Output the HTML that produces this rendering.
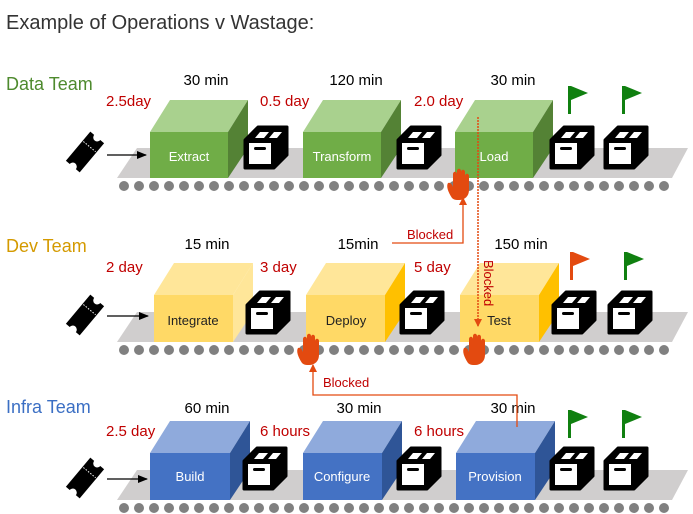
<!DOCTYPE html>
<html><head><meta charset="utf-8"><style>
body{margin:0;background:#fff;width:693px;height:514px;overflow:hidden}
svg{display:block;font-family:"Liberation Sans",sans-serif}
</style></head><body>
<svg width="693" height="514" viewBox="0 0 693 514">
<defs>
<g id="crate">
<polygon points="0,13 13,0 42,0 42,28 29,41 0,41" fill="#000" stroke="#000" stroke-width="3" stroke-linejoin="round"/>
<rect x="4" y="16" width="22" height="21" fill="#fff"/>
<rect x="9" y="20" width="12" height="3" rx="1.5" fill="#000"/>
<polygon points="10,11 15,5 24,5 19,11" fill="#fff"/>
<polygon points="24,11 29,5 37,5 32,11" fill="#fff"/>
</g>
<g id="ticket">
<g transform="rotate(-50 0 0)">
<path d="M-19,-9 h38 v5 a3.5,3.5 0 0 0 0,8 v5 h-38 v-5 a3.5,3.5 0 0 0 0,-8 z" fill="#000"/>
<line x1="7" y1="-8" x2="7" y2="8" stroke="#fff" stroke-width="1" stroke-dasharray="1.5 1.5"/>
</g>
</g>
<g id="flag"><rect x="0" y="0" width="3" height="28" fill="currentColor"/><polygon points="3,0 20,7 3,14" fill="currentColor"/></g>
<g id="hand">
<path d="M-9,14 C-13,8 -15,2 -13,-1 C-11,-2 -9,0 -8,3 L-8,-10 C-8,-13 -4,-13 -4,-10 L-4,-13 C-4,-16 0,-16 0,-13 L0,-12 C0,-15 4,-15 4,-12 L4,-8 C4,-11 8,-11 8,-8 L8,6 C8,12 4,16 -2,16 C-5,16 -7,16 -9,14 Z" fill="#e34a10"/>
</g>
<g id="dots">
<g fill="#808080">
<circle cx="124" cy="0" r="5"/><circle cx="139" cy="0" r="5"/><circle cx="154" cy="0" r="5"/><circle cx="169" cy="0" r="5"/><circle cx="184" cy="0" r="5"/><circle cx="199" cy="0" r="5"/><circle cx="214" cy="0" r="5"/><circle cx="229" cy="0" r="5"/><circle cx="244" cy="0" r="5"/><circle cx="259" cy="0" r="5"/><circle cx="274" cy="0" r="5"/><circle cx="289" cy="0" r="5"/><circle cx="304" cy="0" r="5"/><circle cx="319" cy="0" r="5"/><circle cx="334" cy="0" r="5"/><circle cx="349" cy="0" r="5"/><circle cx="364" cy="0" r="5"/><circle cx="379" cy="0" r="5"/><circle cx="394" cy="0" r="5"/><circle cx="409" cy="0" r="5"/><circle cx="424" cy="0" r="5"/><circle cx="439" cy="0" r="5"/><circle cx="454" cy="0" r="5"/><circle cx="469" cy="0" r="5"/><circle cx="484" cy="0" r="5"/><circle cx="499" cy="0" r="5"/><circle cx="514" cy="0" r="5"/><circle cx="529" cy="0" r="5"/><circle cx="544" cy="0" r="5"/><circle cx="559" cy="0" r="5"/><circle cx="574" cy="0" r="5"/><circle cx="589" cy="0" r="5"/><circle cx="604" cy="0" r="5"/><circle cx="619" cy="0" r="5"/><circle cx="634" cy="0" r="5"/><circle cx="649" cy="0" r="5"/><circle cx="664" cy="0" r="5"/>
</g>
</g>
<marker id="ar" markerWidth="8" markerHeight="8" refX="7" refY="4" orient="auto" markerUnits="userSpaceOnUse"><path d="M0,0 L8,4 L0,8 z" fill="#e34a10"/></marker>
<marker id="ab" markerWidth="10" markerHeight="8" refX="9" refY="4" orient="auto" markerUnits="userSpaceOnUse"><path d="M0,0 L10,4 L0,8 z" fill="#000"/></marker>
</defs>

<text x="6" y="29" font-size="20" fill="#333">Example of Operations v Wastage:</text>

<!-- ROW 1 -->
<g>
<text x="6" y="90" font-size="18" fill="#4e8a2e">Data Team</text>
<polygon points="137,148 688,148 672,178 117,178" fill="#d0cece"/>
<use href="#dots" y="186"/>
<use href="#ticket" x="85" y="152"/>
<line x1="107" y1="155" x2="146" y2="155" stroke="#000" stroke-width="1.3" marker-end="url(#ab)"/>
<polygon points="150,132 170,100 248,100 228,132" fill="#a9d18e"/><polygon points="228,132 248,100 248,148 228,178" fill="#548235"/><rect x="150" y="132" width="78" height="46" fill="#70ad47"/>
<polygon points="303,132 323,100 401,100 381,132" fill="#a9d18e"/><polygon points="381,132 401,100 401,148 381,178" fill="#548235"/><rect x="303" y="132" width="78" height="46" fill="#70ad47"/>
<polygon points="455,132 475,100 553,100 533,132" fill="#a9d18e"/><polygon points="533,132 553,100 553,148 533,178" fill="#548235"/><rect x="455" y="132" width="78" height="46" fill="#70ad47"/>
<g font-size="13" fill="#fff" text-anchor="middle"><text x="189" y="161">Extract</text><text x="342" y="161">Transform</text><text x="494" y="161">Load</text></g>
<use href="#crate" x="245" y="127"/><use href="#crate" x="398" y="127"/><use href="#crate" x="551" y="127"/><use href="#crate" x="605" y="127"/>
<use href="#flag" x="568" y="86" style="color:#108010"/><use href="#flag" x="622" y="86" style="color:#108010"/>
<g font-size="15" fill="#000" text-anchor="middle"><text x="206" y="85">30 min</text><text x="356" y="85">120 min</text><text x="513" y="85">30 min</text></g>
<g font-size="15" fill="#c00000"><text x="106" y="106">2.5day</text><text x="260" y="106">0.5 day</text><text x="414" y="106">2.0 day</text></g>
</g>

<!-- ROW 2 -->
<g>
<text x="6" y="252" font-size="18" fill="#d49a00">Dev Team</text>
<polygon points="137,312 688,312 672,342 117,342" fill="#d0cece"/>
<use href="#dots" y="350"/>
<use href="#ticket" x="85" y="315"/>
<line x1="107" y1="316" x2="148" y2="316" stroke="#000" stroke-width="1.3" marker-end="url(#ab)"/>
<polygon points="154,295 174,263 253,263 233,295" fill="#ffe699"/><polygon points="233,295 253,263 253,312 233,342" fill="#ffe699"/><rect x="154" y="295" width="79" height="47" fill="#ffd966"/>
<polygon points="306,295 326,263 405,263 385,295" fill="#ffe699"/><polygon points="385,295 405,263 405,312 385,342" fill="#ffc000"/><rect x="306" y="295" width="79" height="47" fill="#ffd966"/>
<polygon points="460,295 480,263 559,263 539,295" fill="#ffe699"/><polygon points="539,295 559,263 559,312 539,342" fill="#ffc000"/><rect x="460" y="295" width="79" height="47" fill="#ffd966"/>
<g font-size="13" fill="#222" text-anchor="middle"><text x="193" y="325">Integrate</text><text x="346" y="325">Deploy</text><text x="499" y="325">Test</text></g>
<use href="#crate" x="247" y="292"/><use href="#crate" x="401" y="292"/><use href="#crate" x="553" y="292"/><use href="#crate" x="609" y="292"/>
<use href="#flag" x="570" y="252" style="color:#e34a10"/><use href="#flag" x="624" y="252" style="color:#108010"/>
<g font-size="15" fill="#000" text-anchor="middle"><text x="207" y="249">15 min</text><text x="358" y="249">15min</text><text x="521" y="249">150 min</text></g>
<g font-size="15" fill="#c00000"><text x="106" y="272">2 day</text><text x="260" y="272">3 day</text><text x="414" y="272">5 day</text></g>
</g>

<!-- ROW 3 -->
<g>
<text x="6" y="413" font-size="18" fill="#3b6fc4">Infra Team</text>
<polygon points="137,470 688,470 672,500 117,500" fill="#d0cece"/>
<use href="#dots" y="508"/>
<use href="#ticket" x="85" y="478"/>
<line x1="107" y1="479" x2="147" y2="479" stroke="#000" stroke-width="1.3" marker-end="url(#ab)"/>
<polygon points="150,453 170,421 250,421 230,453" fill="#8faadc"/><polygon points="230,453 250,421 250,470 230,500" fill="#2f5597"/><rect x="150" y="453" width="80" height="47" fill="#4472c4"/>
<polygon points="303,453 323,421 402,421 382,453" fill="#8faadc"/><polygon points="382,453 402,421 402,470 382,500" fill="#2f5597"/><rect x="303" y="453" width="79" height="47" fill="#4472c4"/>
<polygon points="456,453 476,421 555,421 535,453" fill="#8faadc"/><polygon points="535,453 555,421 555,470 535,500" fill="#2f5597"/><rect x="456" y="453" width="79" height="47" fill="#4472c4"/>
<g font-size="13" fill="#fff" text-anchor="middle"><text x="190" y="481">Build</text><text x="342" y="481">Configure</text><text x="495" y="481">Provision</text></g>
<use href="#crate" x="244" y="448"/><use href="#crate" x="398" y="448"/><use href="#crate" x="551" y="448"/><use href="#crate" x="605" y="448"/>
<use href="#flag" x="568" y="410" style="color:#108010"/><use href="#flag" x="622" y="410" style="color:#108010"/>
<g font-size="15" fill="#000" text-anchor="middle"><text x="207" y="413">60 min</text><text x="359" y="413">30 min</text><text x="513" y="413">30 min</text></g>
<g font-size="15" fill="#c00000"><text x="106" y="436">2.5 day</text><text x="260" y="436">6 hours</text><text x="414" y="436">6 hours</text></g>
</g>

<!-- connectors -->
<polyline points="392,243 463,243 463,198" fill="none" stroke="#e34a10" stroke-width="1.3" marker-end="url(#ar)"/>
<text x="407" y="239" font-size="13" fill="#c00000">Blocked</text>
<line x1="478" y1="117" x2="478" y2="326" stroke="#e34a10" stroke-width="1.5" stroke-dasharray="2 1" marker-end="url(#ar)"/>
<text x="0" y="0" font-size="13" fill="#c00000" transform="translate(484,260) rotate(90)">Blocked</text>
<polyline points="517,427 517,395 313,395 313,365" fill="none" stroke="#e34a10" stroke-width="1.3" marker-end="url(#ar)"/>
<text x="323" y="387" font-size="13" fill="#c00000">Blocked</text>

<use href="#hand" x="461" y="184"/>
<use href="#hand" x="311" y="349"/>
<use href="#hand" x="477" y="349"/>
</svg>
</body></html>
